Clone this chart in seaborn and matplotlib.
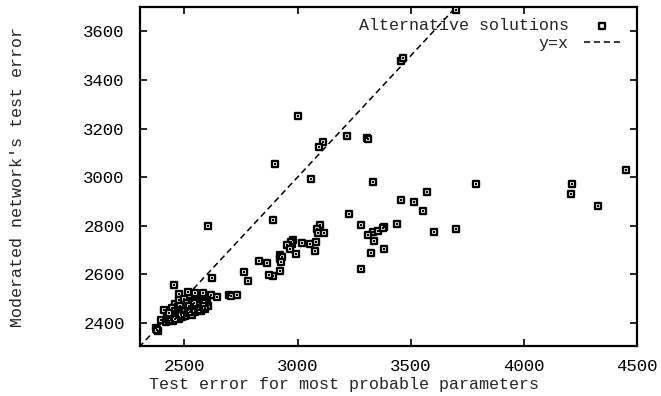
import pandas as pd
import matplotlib
matplotlib.use('Agg')
import matplotlib.pyplot as plt
import seaborn as sns

sns.set_style('ticks')
plt.rcParams['font.family'] = ['Liberation Mono', 'DejaVu Sans Mono']

# Test error for most probable parameters vs moderated network's test error
test_err = [
    3700, 3455, 3465, 3000, 3113, 3096, 3219, 3305, 3310, 3058,
    2902, 3334, 3458, 3515, 3572, 3789, 4212, 4208, 4450, 4327,
    3555, 3440, 3383, 3383, 3603, 3700, 3228, 3281, 3334, 3356,
    3378, 3312, 3339, 3325, 3281, 3100, 3087, 3091, 3118, 3083,
    3056, 3021, 2981, 2977, 2970, 2955, 2968, 2994, 3078, 2924,
    2924, 2930, 2928, 2924, 2893, 2893, 2605, 2831, 2866, 2765,
    2782, 2875, 2624, 2699, 2705, 2734, 2646, 2619, 2584, 2549,
    2518, 2478, 2456, 2412, 2398, 2376, 2385, 2380,
    2420, 2425, 2432, 2438, 2440, 2445, 2448, 2452, 2455, 2458,
    2462, 2466, 2470, 2472, 2476, 2480, 2484, 2488, 2490, 2494,
    2498, 2502, 2506, 2510, 2515, 2520, 2524, 2528, 2533, 2538,
    2542, 2548, 2552, 2556, 2560, 2566, 2570, 2575, 2580, 2586,
    2590, 2596, 2600, 2604, 2460, 2478, 2500,
    2428, 2436, 2444, 2450, 2464, 2474, 2486, 2496, 2508, 2518,
    2530, 2540, 2550, 2562, 2572, 2584, 2594, 2468, 2482, 2512,
    2536, 2558, 2578, 2446, 2492,
    2430, 2442, 2454, 2466, 2478, 2490, 2504, 2516, 2526, 2546,
    2554, 2568, 2582, 2592, 2434, 2458, 2486, 2522, 2544, 2588,
]
moderated_err = [
    3690, 3480, 3490, 3250, 3147, 3126, 3171, 3160, 3158, 2992,
    3053, 2979, 2905, 2900, 2939, 2971, 2971, 2930, 3028, 2881,
    2861, 2808, 2796, 2706, 2775, 2788, 2849, 2804, 2775, 2779,
    2792, 2763, 2739, 2690, 2624, 2804, 2788, 2771, 2771, 2735,
    2726, 2730, 2743, 2726, 2735, 2722, 2706, 2682, 2698, 2681,
    2665, 2672, 2653, 2616, 2824, 2592, 2800, 2657, 2645, 2608,
    2571, 2596, 2584, 2514, 2512, 2514, 2506, 2514, 2522, 2522,
    2527, 2518, 2555, 2453, 2412, 2380, 2367, 2372,
    2405, 2420, 2410, 2430, 2415, 2445, 2425, 2410, 2460, 2438,
    2420, 2450, 2470, 2432, 2418, 2455, 2440, 2485, 2425, 2462,
    2445, 2430, 2475, 2455, 2440, 2490, 2465, 2448, 2435, 2478,
    2458, 2445, 2495, 2470, 2452, 2485, 2462, 2448, 2490, 2470,
    2458, 2480, 2495, 2470, 2478, 2495, 2500,
    2415, 2422, 2432, 2448, 2440, 2445, 2458, 2470, 2440, 2452,
    2458, 2468, 2460, 2475, 2478, 2482, 2488, 2428, 2468, 2482,
    2490, 2478, 2460, 2462, 2452,
    2425, 2412, 2435, 2428, 2425, 2440, 2450, 2462, 2445, 2452,
    2480, 2455, 2472, 2465, 2440, 2418, 2432, 2472, 2482, 2482,
]
diag = [2300, 3700]

df = pd.DataFrame({'x': test_err, 'y': moderated_err})

fig = plt.figure(figsize=(6.61, 3.96), dpi=100)
ax = fig.add_axes([0.212, 0.126, 0.752, 0.856])

sns.scatterplot(data=df, x='x', y='y', ax=ax, marker='s', s=20,
                facecolor='white', edgecolor='black', linewidth=1.7,
                label='Alternative solutions', zorder=3)
# little dot in the middle of each square
ax.scatter(df['x'], df['y'], marker='s', s=1.5, color='black', zorder=4, linewidths=0)
sns.lineplot(x=diag, y=diag, ax=ax, color='black', lw=1.1,
             label='y=x', zorder=2)
ax.lines[-1].set_linestyle((0, (4, 2.5)))

ax.set_xlim(2305, 4500)
ax.set_ylim(2305, 3700)
ax.set_xticks([2500, 3000, 3500, 4000, 4500])
ax.set_yticks([2400, 2600, 2800, 3000, 3200, 3400, 3600])

ax.tick_params(direction='in', top=True, right=True, length=5, width=1.2,
               labelsize=12.5, colors='black')
ax.tick_params(axis='y', pad=11)
ax.tick_params(axis='x', pad=9)
for s in ax.spines.values():
    s.set_linewidth(1.6)
    s.set_color('black')

ax.set_xlabel('Test error for most probable parameters', fontsize=12)
ax.xaxis.set_label_coords(0.41, -0.09)
ax.set_ylabel("Moderated network's test error", fontsize=12, labelpad=42)

ax.legend(loc='upper right', bbox_to_anchor=(0.966, 0.968), frameon=False,
          markerfirst=False, fontsize=12, handlelength=2.2, handletextpad=0.9,
          borderaxespad=0, labelspacing=0.2, borderpad=0)

fig.savefig('out.png', dpi=100)
